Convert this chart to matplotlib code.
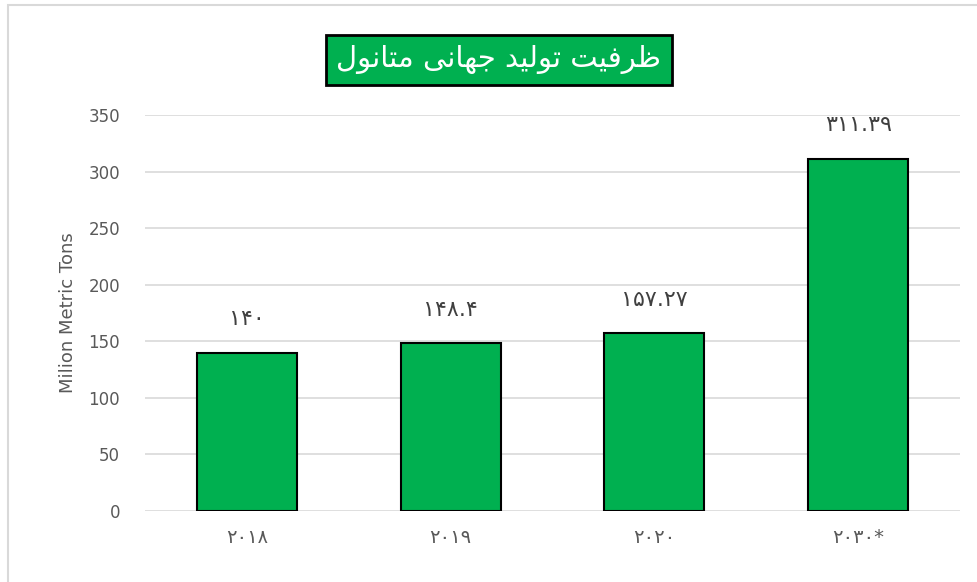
import matplotlib.pyplot as plt
from matplotlib.patches import Rectangle

years = ['۲۰۱۸', '۲۰۱۹', '۲۰۲۰', '۲۰۳۰*']
values = [140, 148.4, 157.27, 311.39]
value_labels = ['۱۴۰', '۱۴۸.۴', '۱۵۷.۲۷', '۳۱۱.۳۹']
title = 'ظرفیت تولید جهانی متانول'

# presentation forms: isolated, final, initial, medial (None = right-joining only)
FORMS = {
    'ظ': ('\uFEC5', '\uFEC6', '\uFEC7', '\uFEC8'),
    'ر': ('\uFEAD', '\uFEAE', None, None),
    'ف': ('\uFED1', '\uFED2', '\uFED3', '\uFED4'),
    'ی': ('\uFBFC', '\uFBFD', '\uFBFE', '\uFBFF'),
    'ت': ('\uFE95', '\uFE96', '\uFE97', '\uFE98'),
    'و': ('\uFEED', '\uFEEE', None, None),
    'ل': ('\uFEDD', '\uFEDE', '\uFEDF', '\uFEE0'),
    'د': ('\uFEA9', '\uFEAA', None, None),
    'ج': ('\uFE9D', '\uFE9E', '\uFE9F', '\uFEA0'),
    'ه': ('\uFEE9', '\uFEEA', '\uFEEB', '\uFEEC'),
    'ا': ('\uFE8D', '\uFE8E', None, None),
    'ن': ('\uFEE5', '\uFEE6', '\uFEE7', '\uFEE8'),
    'م': ('\uFEE1', '\uFEE2', '\uFEE3', '\uFEE4'),
}


def shape(text):
    out = []
    for i, ch in enumerate(text):
        if ch not in FORMS:
            out.append(ch)
            continue
        prev = text[i - 1] if i > 0 else ''
        nxt = text[i + 1] if i + 1 < len(text) else ''
        join_prev = prev in FORMS and FORMS[prev][2] is not None
        join_next = nxt in FORMS and FORMS[ch][2] is not None
        f = FORMS[ch]
        if join_prev and join_next:
            out.append(f[3])
        elif join_prev:
            out.append(f[1])
        elif join_next:
            out.append(f[2])
        else:
            out.append(f[0])
    return ''.join(out)[::-1]


plt.rcParams['font.family'] = ['DejaVu Sans']
fig = plt.figure(figsize=(9.78, 5.82), dpi=100)
ax = fig.add_axes([145 / 978, 1 - 511 / 582, 815 / 978, 396 / 582])

x = range(len(years))
bars = ax.bar(x, values, width=0.49, color='#00B050', edgecolor='black', linewidth=1.5, zorder=3)
for b, lab in zip(bars, value_labels):
    ax.annotate(lab, (b.get_x() + b.get_width() / 2, b.get_height()), xytext=(0, 24),
                textcoords='offset points', ha='center', va='center', fontsize=16, color='#404040')

ax.set_xlim(-0.5, 3.5)
ax.set_ylim(0, 350)
ax.set_yticks(range(0, 351, 50))
ax.set_xticks(list(x))
ax.set_xticklabels(years, fontsize=14, color='#595959')
ax.tick_params(axis='y', labelsize=12, labelcolor='#595959', length=0, pad=18)
ax.tick_params(axis='x', length=0, pad=12)
ax.grid(axis='y', color='#D9D9D9', linewidth=1.2, zorder=0)
for s in ax.spines.values():
    s.set_visible(False)
ax.set_ylabel('Milion Metric Tons', fontsize=13, color='#595959', labelpad=8)

fig.text(499 / 978, 1 - 60 / 582, shape(title), ha='center', va='center', fontsize=21, color='white',
         bbox=dict(boxstyle='square,pad=0.35', facecolor='#00B050', edgecolor='black', linewidth=2))

fig.patches.append(Rectangle((8 / 978, -0.1), 1.2, 1 - 5 / 582 + 0.1, transform=fig.transFigure,
                             fill=False, edgecolor='#D9D9D9', linewidth=1.5))

fig.savefig('out.png', dpi=100)
